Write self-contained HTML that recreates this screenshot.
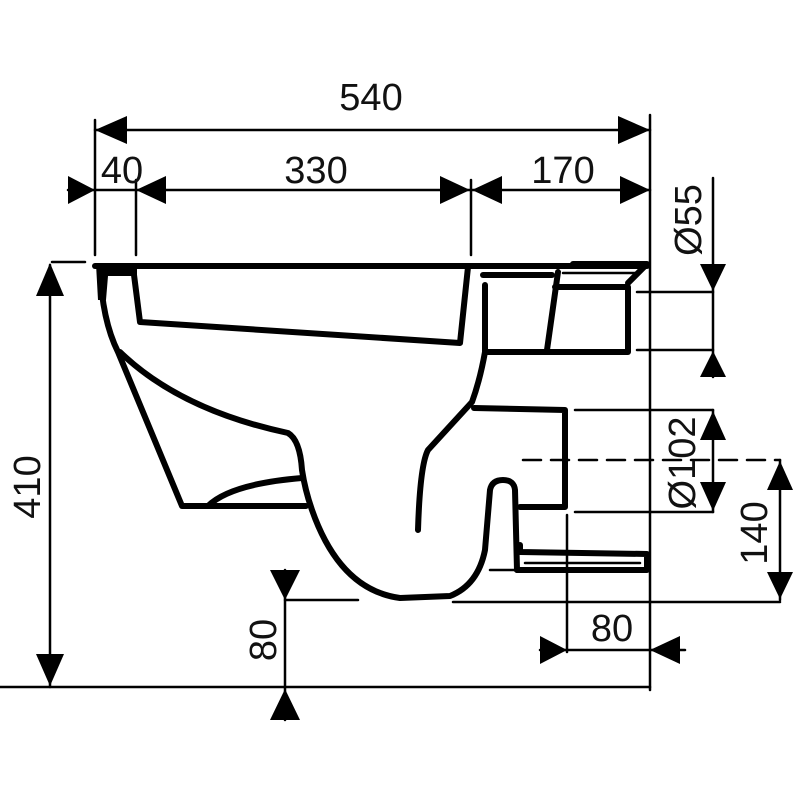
<!DOCTYPE html>
<html><head><meta charset="utf-8"><style>
html,body{margin:0;padding:0;background:#fff;}
svg{display:block}
text{font-family:"Liberation Sans",sans-serif;font-size:38px;fill:#111;}
</style></head><body>
<svg width="800" height="800" viewBox="0 0 800 800" xmlns="http://www.w3.org/2000/svg">
<g fill="none" stroke="#000" stroke-linecap="round" stroke-linejoin="round">
<g stroke-width="2.5">
<line x1="95" y1="130" x2="650" y2="130"/>
<line x1="68" y1="190" x2="650" y2="190"/>
<line x1="95" y1="120" x2="95" y2="255"/>
<line x1="136" y1="180" x2="136" y2="255"/>
<line x1="471" y1="180" x2="471" y2="255"/>
<line x1="650" y1="115" x2="650" y2="690"/>
<line x1="0" y1="687" x2="650" y2="687"/>
<line x1="50" y1="265" x2="50" y2="687"/>
<line x1="52" y1="262" x2="85" y2="262"/>
<line x1="285" y1="570" x2="285" y2="720"/>
<line x1="285" y1="600" x2="358" y2="600"/>
<line x1="713" y1="178" x2="713" y2="377"/>
<line x1="637" y1="292" x2="713" y2="292"/>
<line x1="637" y1="350" x2="713" y2="350"/>
<line x1="713" y1="410" x2="713" y2="512"/>
<line x1="575" y1="410" x2="713" y2="410"/>
<line x1="575" y1="512" x2="713" y2="512"/>
<line x1="780" y1="460" x2="780" y2="600"/>
<line x1="453" y1="602" x2="780" y2="602"/>
<line x1="523" y1="460" x2="780" y2="460" stroke-dasharray="18 10"/>
<line x1="567" y1="515" x2="567" y2="652"/>
<line x1="540" y1="650" x2="685" y2="650"/>
</g>
<g stroke-width="6">
<line x1="95" y1="266" x2="647" y2="266"/>
<path d="M100 268 Q102 320 118 352 L182 506 L306 506"/>
<path d="M120 352 Q180 410 288 433 Q300 440 302 470 Q305 490 312 510 Q340 590 400 598 L450 596 Q478 585 485 550 L490 490 Q492 480 503 480 Q514 480 515 490 L517 570"/>
<path d="M208 506 Q230 484 302 478"/>
<path d="M133 267 L140 322 L460 343 L468 267"/>
<path d="M485 285 L485 352 Q480 380 472 402 L428 450 Q420 465 418 530"/>
<path d="M474 408 L565 410 L565 507 L520 507"/>
<path d="M520 545 L520 552 L647 554 L647 570 L517 570"/>
<path d="M483 275 L552 275"/>
<path d="M485 352 L628 352 L628 287 L555 287"/>
<path d="M558 272 L547 350"/>
<path d="M573 264 L647 264 L628 283"/>
</g>
<g stroke-width="2.5">
<line x1="563" y1="273" x2="637" y2="273"/>
<line x1="525" y1="563" x2="640" y2="563"/>
<line x1="490" y1="570" x2="517" y2="570"/>
</g>
</g>
<g fill="#000">
<polygon points="96,264 137,264 137,276 108,276 106,300 98,300"/>
<polygon points="95,130 127,116 127,144"/>
<polygon points="650,130 618,116 618,144"/>
<polygon points="95,190 68,176 68,204"/>
<polygon points="136,190 166,176 166,204"/>
<polygon points="470,190 440,176 440,204"/>
<polygon points="472,190 502,176 502,204"/>
<polygon points="650,190 620,176 620,204"/>
<polygon points="50,263 36,296 64,296"/>
<polygon points="50,686 36,654 64,654"/>
<polygon points="285,600 270,570 300,570"/>
<polygon points="285,689 270,720 300,720"/>
<polygon points="713,291 700,264 726,264"/>
<polygon points="713,351 700,377 726,377"/>
<polygon points="713,411 700,440 726,440"/>
<polygon points="713,511 700,482 726,482"/>
<polygon points="780,461 767,490 793,490"/>
<polygon points="780,599 767,572 793,572"/>
<polygon points="567,650 540,636 540,664"/>
<polygon points="650,650 680,636 680,664"/>
</g>
<text x="371" y="110" text-anchor="middle">540</text>
<text x="122" y="183" text-anchor="middle">40</text>
<text x="316" y="183" text-anchor="middle">330</text>
<text x="563" y="183" text-anchor="middle">170</text>
<text x="612" y="641" text-anchor="middle">80</text>
<text transform="translate(40,487) rotate(-90)" text-anchor="middle">410</text>
<text transform="translate(276,640) rotate(-90)" text-anchor="middle">80</text>
<text transform="translate(701,220) rotate(-90)" text-anchor="middle">Ø55</text>
<text transform="translate(695,463) rotate(-90)" text-anchor="middle">Ø102</text>
<text transform="translate(767,533) rotate(-90)" text-anchor="middle">140</text>
</svg>
</body></html>
